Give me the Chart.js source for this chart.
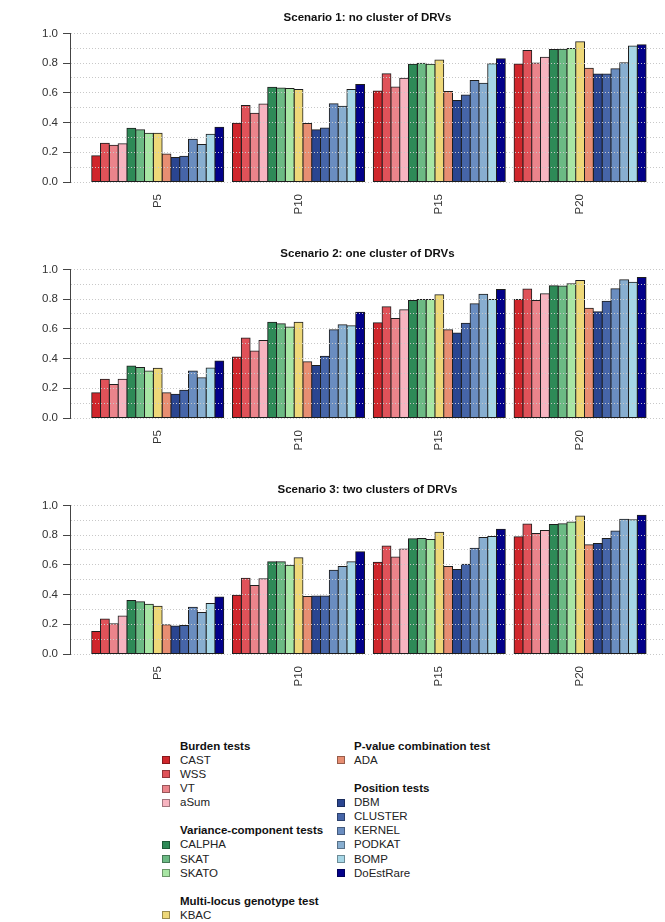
<!DOCTYPE html>
<html>
<head>
<meta charset="utf-8">
<script src="https://cdn.jsdelivr.net/npm/chart.js@4"></script>
<style>
  body { margin: 0; background: #fff; }
  #page { position: relative; width: 665px; height: 922px; overflow: hidden; font-family: "Liberation Sans", Arial, sans-serif; }
  .panel { position: absolute; left: 0; width: 665px; height: 236px; }
  .leg { position: absolute; font-size: 11.5px; line-height: 14px; color: #222; white-space: nowrap; }
  .leg.head { font-weight: bold; color: #111; }
  .sq { position: absolute; width: 6px; height: 6px; border: 1px solid rgba(0,0,0,0.35); }
</style>
</head>
<body>
<div id="page">
  <div class="panel" style="top:0px"><canvas id="c1" width="665" height="236"></canvas></div>
  <div class="panel" style="top:236px"><canvas id="c2" width="665" height="236"></canvas></div>
  <div class="panel" style="top:472px"><canvas id="c3" width="665" height="236"></canvas></div>
  <div id="legend"></div>
</div>
<script>
// methods in bar order
const methods = ['CAST', 'WSS', 'VT', 'aSum', 'CALPHA', 'SKAT', 'SKATO', 'KBAC', 'ADA',
                 'DBM', 'CLUSTER', 'KERNEL', 'PODKAT', 'BOMP', 'DoEstRare'];
const methodColors = ['#d0262c', '#e05259', '#eb848b', '#f7b4c0', '#2e8a57', '#6cba84', '#a8e6a4',
                      '#eed879', '#e78e72', '#2a4590', '#4665a8', '#6a8dc0', '#88aed0', '#a6d6e6', '#03018a'];
const groupLabels = ['P5', 'P10', 'P15', 'P20'];
const titles = ['Scenario 1: no cluster of DRVs', 'Scenario 2: one cluster of DRVs', 'Scenario 3: two clusters of DRVs'];

// one row per group (P5, P10, P15, P20), one value per method
const scenario1 = [
  [0.176, 0.260, 0.247, 0.258, 0.362, 0.351, 0.328, 0.328, 0.188, 0.165, 0.174, 0.287, 0.253, 0.321, 0.369],
  [0.396, 0.514, 0.462, 0.525, 0.638, 0.633, 0.629, 0.622, 0.394, 0.351, 0.364, 0.527, 0.509, 0.622, 0.656],
  [0.613, 0.728, 0.640, 0.699, 0.792, 0.799, 0.792, 0.821, 0.609, 0.548, 0.586, 0.683, 0.665, 0.796, 0.830],
  [0.794, 0.885, 0.801, 0.839, 0.891, 0.894, 0.898, 0.943, 0.765, 0.726, 0.726, 0.762, 0.803, 0.916, 0.923]
];
const scenario2 = [
  [0.170, 0.260, 0.226, 0.260, 0.350, 0.339, 0.316, 0.334, 0.170, 0.159, 0.186, 0.316, 0.271, 0.336, 0.383],
  [0.410, 0.538, 0.451, 0.522, 0.644, 0.635, 0.612, 0.644, 0.379, 0.354, 0.415, 0.594, 0.628, 0.621, 0.711],
  [0.641, 0.749, 0.670, 0.729, 0.791, 0.798, 0.798, 0.830, 0.594, 0.572, 0.637, 0.769, 0.832, 0.798, 0.865],
  [0.798, 0.868, 0.791, 0.836, 0.890, 0.888, 0.904, 0.926, 0.738, 0.715, 0.785, 0.870, 0.930, 0.913, 0.946]
];
const scenario3 = [
  [0.151, 0.236, 0.204, 0.256, 0.360, 0.351, 0.335, 0.321, 0.196, 0.189, 0.191, 0.315, 0.279, 0.339, 0.384],
  [0.396, 0.510, 0.461, 0.506, 0.620, 0.620, 0.598, 0.647, 0.387, 0.391, 0.391, 0.564, 0.589, 0.620, 0.688],
  [0.618, 0.726, 0.652, 0.706, 0.775, 0.778, 0.771, 0.820, 0.589, 0.569, 0.604, 0.712, 0.784, 0.791, 0.840],
  [0.789, 0.874, 0.811, 0.831, 0.872, 0.876, 0.888, 0.928, 0.735, 0.744, 0.778, 0.827, 0.906, 0.903, 0.933]
];

// legend columns: '#' marks a heading, '' an empty row
const legendLeft = ['#Burden tests', 'CAST', 'WSS', 'VT', 'aSum', '', '#Variance-component tests',
                    'CALPHA', 'SKAT', 'SKATO', '', '#Multi-locus genotype test', 'KBAC'];
const legendRight = ['#P-value combination test', 'ADA', '', '#Position tests', 'DBM', 'CLUSTER',
                     'KERNEL', 'PODKAT', 'BOMP', 'DoEstRare'];

Chart.defaults.font.family = '"Liberation Sans", Arial, sans-serif';
Chart.defaults.font.size = 11.5;
Chart.defaults.color = '#333';

function drawPanel(id, title, values) {
    const datasets = methods.map((m, mi) => ({
        label: m,
        data: groupLabels.map((g, gi) => ({ x: gi, y: values[gi][mi] })),
        backgroundColor: methodColors[mi],
        borderColor: '#1e1e1e',
        borderWidth: 1,
        borderSkipped: false,
        inflateAmount: 0.5,
        categoryPercentage: 15 / 16,
        barPercentage: 1
    }));

    new Chart(document.getElementById(id), {
        type: 'bar',
        data: { datasets: datasets },
        options: {
            responsive: false,
            animation: false,
            layout: { padding: 0 },
            scales: {
                x: {
                    type: 'linear',
                    min: -0.623,
                    max: 3.603,
                    offset: false,
                    afterFit: (scale) => { scale.height = 54; },
                    grid: { display: false, drawTicks: false, offset: false },
                    border: { display: false },
                    ticks: {
                        stepSize: 1,
                        includeBounds: false,
                        autoSkip: false,
                        minRotation: 90,
                        maxRotation: 90,
                        padding: 12,
                        color: '#333',
                        callback: (v) => groupLabels[v] || ''
                    }
                },
                y: {
                    min: 0,
                    max: 1,
                    z: 1,
                    afterFit: (scale) => { scale.width = 70; },
                    ticks: {
                        stepSize: 0.1,
                        autoSkip: false,
                        padding: 5,
                        color: '#333',
                        callback: (v) => Math.round(v * 10) % 2 === 0 ? v.toFixed(1) : ''
                    },
                    grid: {
                        z: 1,   // dotted lines go over the bars, like abline() after barplot()
                        color: '#c8c8c8',
                        lineWidth: 1,
                        tickLength: 7,
                        tickColor: (c) => Math.round(c.tick.value * 10) % 2 === 0 ? '#444' : 'rgba(0,0,0,0)'
                    },
                    border: { display: true, z: 1, color: '#444', width: 1, dash: [1, 2] }
                }
            },
            plugins: {
                legend: { display: false },
                tooltip: { enabled: false },
                title: {
                    display: true,
                    text: title,
                    fullSize: false,
                    color: '#111',
                    font: { size: 11.5, weight: 'bold' },
                    padding: { top: 11, bottom: 8.6 }
                }
            }
        }
    });
}

drawPanel('c1', titles[0], scenario1);
drawPanel('c2', titles[1], scenario2);
drawPanel('c3', titles[2], scenario3);

// legend, built from the same names and colours
function legendColumn(items, sqX, textX) {
    const box = document.getElementById('legend');
    items.forEach((name, k) => {
        if (!name) return;
        const cy = 745.7 + 14.1 * k;
        const t = document.createElement('div');
        t.className = 'leg' + (name[0] === '#' ? ' head' : '');
        t.textContent = name[0] === '#' ? name.slice(1) : name;
        t.style.left = textX + 'px';
        t.style.top = (cy - 7) + 'px';
        box.appendChild(t);
        if (name[0] !== '#') {
            const s = document.createElement('div');
            s.className = 'sq';
            s.style.left = sqX + 'px';
            s.style.top = (cy - 3.5) + 'px';
            s.style.background = methodColors[methods.indexOf(name)];
            box.appendChild(s);
        }
    });
}
legendColumn(legendLeft, 162, 180);
legendColumn(legendRight, 337, 354);
</script>
</body>
</html>
